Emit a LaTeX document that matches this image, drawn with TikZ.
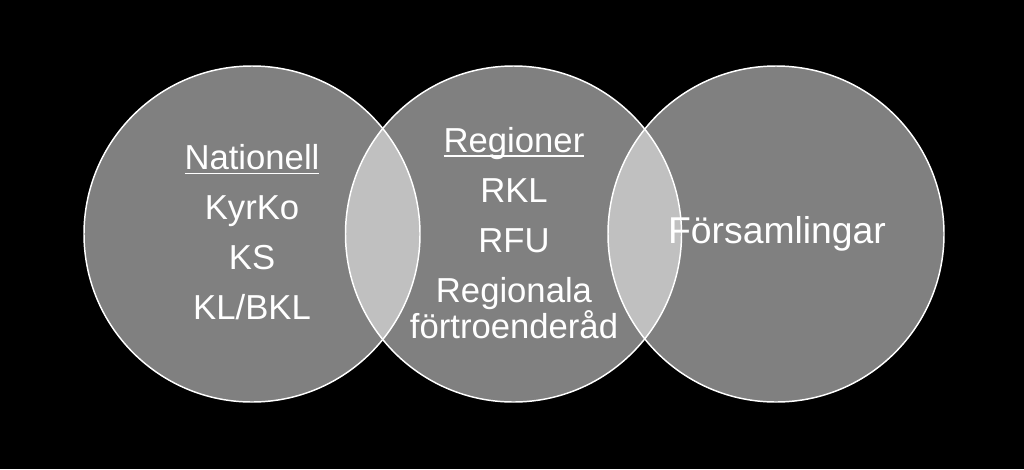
\documentclass[tikz,border=0pt]{standalone}
\usepackage{fontspec}
\setmainfont{Liberation Sans}
\usepackage{tikz}
\usetikzlibrary{positioning}
\definecolor{VennGray}{HTML}{808080}
\definecolor{VennLight}{HTML}{C0C0C0}
\newcommand{\vennr}{126pt}
\newsavebox{\headbox}
\newcommand{\headline}[1]{\sbox{\headbox}{#1}\rlap{\rule[-3.8pt]{\wd\headbox}{1.4pt}}\usebox{\headbox}}
\tikzset{%
  venn/.style={circle,fill=VennGray,minimum size=252pt,inner sep=0pt},
  rim/.style={draw=white,line width=1.1pt},
  venntext/.style={text=white,align=center,font=\fontsize{26}{26.25}\selectfont}
}

\begin{document}
\begin{tikzpicture}[x=0.75pt,y=-0.75pt]
  \fill[black] (0,0) rectangle (1024,469);
  \node[venn] (nat) at (252,234) {};
  \node[venn] (reg) at (513.5,234) {};
  \node[venn] (fors) at (776,234) {};

  % overlaps
  \begin{scope}
    \clip (nat.center) circle[radius=\vennr];
    \fill[VennLight] (reg.center) circle[radius=\vennr];
  \end{scope}
  \begin{scope}
    \clip (reg.center) circle[radius=\vennr];
    \fill[VennLight] (fors.center) circle[radius=\vennr];
  \end{scope}
  \foreach \c in {nat,reg,fors}
    \draw[rim] (\c.center) circle[radius=\vennr];

  \node[venntext] (nattext) at (252,232)
    {\headline{Nationell}\\[11.25pt]KyrKo\\[11.25pt]KS\\[11.25pt]KL/BKL};
  \node[venntext] (regtext) at (514,233)
    {\headline{Regioner}\\[11.25pt]RKL\\[11.25pt]RFU\\[11.25pt]Regionala\\förtroenderåd};
  \node[venntext, font=\fontsize{28}{30}\selectfont] (forstext) at (777,233.5) {Församlingar};
\end{tikzpicture}
\end{document}
